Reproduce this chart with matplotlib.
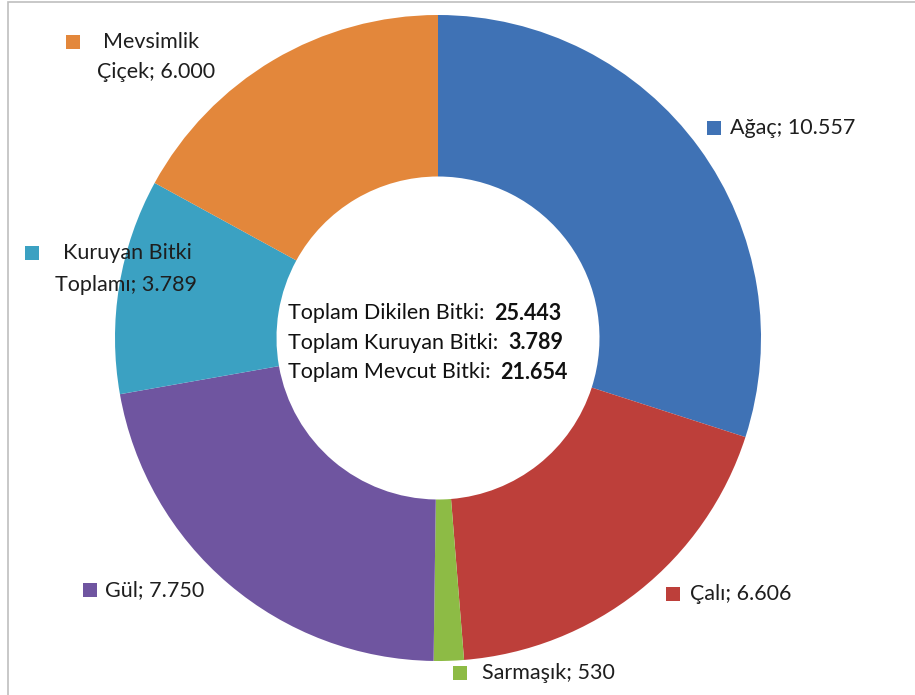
import matplotlib
matplotlib.use("Agg")
import matplotlib.pyplot as plt
from matplotlib.patches import Rectangle

categories = ["Ağaç", "Çalı", "Sarmaşık", "Gül", "Kuruyan Bitki Toplamı", "Mevsimlik Çiçek"]
values = [10557, 6606, 530, 7750, 3789, 6000]
value_labels = ["10.557", "6.606", "530", "7.750", "3.789", "6.000"]
colors = ["#3F72B5", "#BD3F3A", "#8DBB45", "#6F55A0", "#3BA1C2", "#E3873B"]

center_lines = ["Toplam Dikilen Bitki: ", "Toplam Kuruyan Bitki: ", "Toplam Mevcut Bitki: "]
center_values = ["25.443", "3.789", "21.654"]

W, H = 915, 695
fig = plt.figure(figsize=(W / 100, H / 100), dpi=100)
FONT = "Lato"

# border
fig.patches.append(Rectangle((8 / W, -0.05), 1.2, 1 - 2 / H + 0.05, transform=fig.transFigure,
                             fill=False, edgecolor="#BFBFBF", linewidth=1.2))

cx, cy, R = 438, 338, 323
ax = fig.add_axes([(cx - R) / W, (H - cy - R) / H, 2 * R / W, 2 * R / H])
ax.pie(values, colors=colors, startangle=90, counterclock=False, radius=1,
       wedgeprops=dict(width=0.5, linewidth=0))
ax.set_xlim(-1, 1)
ax.set_ylim(-1, 1)
ax.axis("off")

def px(x, y):
    return x / W, 1 - y / H

fs = 15.5

# label layout: (square x, square y, [(text x, text y, text), ...])
label_layout = [
    (714, 128, [(730, 128, f"{categories[0]}; {value_labels[0]}")]),
    (673, 594, [(690, 594, f"{categories[1]}; {value_labels[1]}")]),
    (460, 673, [(482, 673, f"{categories[2]}; {value_labels[2]}")]),
    (90, 590, [(105, 590, f"{categories[3]}; {value_labels[3]}")]),
    (32, 253, [(63, 253, "Kuruyan Bitki"), (55, 285, f"Toplamı; {value_labels[4]}")]),
    (73, 42, [(103, 42, "Mevsimlik"), (97, 72, f"Çiçek; {value_labels[5]}")]),
]
for i, (sx, sy, lines) in enumerate(label_layout):
    fig.patches.append(Rectangle(((sx - 7) / W, 1 - (sy + 7) / H), 14 / W, 14 / H,
                                 transform=fig.transFigure, facecolor=colors[i], edgecolor="none"))
    for tx, ty, txt in lines:
        fig.text(*px(tx, ty), txt, fontsize=fs, family=FONT, color="#1E1E1E",
                 ha="left", va="center")

# center text
for j, (ln, val) in enumerate(zip(center_lines, center_values)):
    t = fig.text(*px(288, 313 + j * 29.5), ln, fontsize=fs, family=FONT, color="#111111",
                 ha="left", va="center")
    ax.annotate(val, xy=(1, 0.5), xycoords=t, xytext=(3, 0), textcoords="offset points",
                fontsize=fs, family=FONT, fontweight="bold", color="#111111",
                ha="left", va="center")

fig.savefig("out.png", dpi=100, facecolor="white")
